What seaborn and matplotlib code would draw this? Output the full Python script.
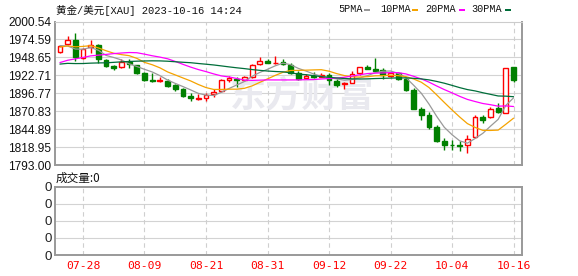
import numpy as np
import pandas as pd
import matplotlib
matplotlib.use("Agg")
import matplotlib.pyplot as plt
from matplotlib.patches import Rectangle
import matplotlib.transforms as mtransforms
import seaborn as sns

# ---------------- data ----------------
dates = ["07-25", "07-26", "07-27", "07-28", "07-31", "08-01", "08-02", "08-03", "08-04", "08-07",
         "08-08", "08-09", "08-10", "08-11", "08-14", "08-15", "08-16", "08-17", "08-18", "08-21",
         "08-22", "08-23", "08-24", "08-25", "08-28", "08-29", "08-30", "08-31", "09-01", "09-04",
         "09-05", "09-06", "09-07", "09-08", "09-11", "09-12", "09-13", "09-14", "09-15", "09-18",
         "09-19", "09-20", "09-21", "09-22", "09-25", "09-26", "09-27", "09-28", "09-29", "10-02",
         "10-03", "10-04", "10-05", "10-06", "10-09", "10-10", "10-11", "10-12", "10-13", "10-16"]

opens = [1956.8, 1967.4, 1973.7, 1947.2, 1963.0, 1966.5, 1944.7, 1935.5, 1935.0, 1942.3,
         1937.0, 1926.4, 1916.5, 1914.3, 1914.3, 1908.5, 1902.2, 1893.5, 1888.7, 1890.1,
         1895.5, 1900.3, 1915.8, 1917.7, 1915.8, 1919.6, 1938.4, 1943.3, 1940.0, 1942.3,
         1937.5, 1926.4, 1919.1, 1921.5, 1920.6, 1923.0, 1914.8, 1910.0, 1912.0, 1925.4,
         1935.0, 1931.2, 1930.3, 1921.5, 1926.4, 1916.7, 1901.3, 1874.7, 1865.1, 1848.1,
         1827.4, 1822.5, 1821.5, 1821.6, 1832.8, 1861.7, 1861.7, 1874.8, 1868.4, 1934.1]
highs = [1965.5, 1979.5, 1984.4, 1962.0, 1973.7, 1967.5, 1947.0, 1938.0, 1947.0, 1945.7,
         1938.2, 1927.9, 1926.4, 1920.6, 1916.8, 1909.5, 1903.7, 1896.5, 1895.5, 1897.4,
         1902.2, 1918.1, 1921.6, 1920.6, 1922.0, 1939.4, 1949.6, 1946.1, 1951.3, 1946.6,
         1940.0, 1929.4, 1924.5, 1927.9, 1926.4, 1925.4, 1916.7, 1913.3, 1929.3, 1935.0,
         1937.5, 1947.1, 1932.7, 1927.9, 1927.9, 1919.6, 1903.7, 1877.1, 1870.0, 1850.5,
         1832.7, 1828.8, 1827.8, 1836.0, 1865.0, 1865.0, 1876.2, 1882.9, 1932.7, 1935.0]
lows = [1955.4, 1966.0, 1943.8, 1945.7, 1954.4, 1940.9, 1935.0, 1931.0, 1932.7, 1932.7,
        1924.6, 1914.8, 1913.4, 1913.3, 1905.2, 1900.3, 1891.6, 1885.8, 1886.7, 1885.8,
        1891.6, 1898.8, 1912.9, 1905.2, 1914.8, 1918.2, 1937.0, 1940.0, 1939.4, 1937.5,
        1924.5, 1915.8, 1916.7, 1918.2, 1919.6, 1908.5, 1906.1, 1902.2, 1911.0, 1923.0,
        1931.2, 1928.4, 1916.7, 1919.6, 1915.8, 1900.3, 1873.3, 1857.8, 1845.7, 1826.5,
        1815.4, 1815.4, 1813.3, 1810.4, 1831.5, 1853.9, 1860.3, 1868.4, 1867.5, 1913.3]
closes = [1965.5, 1973.7, 1948.6, 1960.2, 1966.5, 1945.7, 1936.5, 1933.5, 1942.3, 1938.9,
          1926.4, 1915.8, 1914.4, 1915.8, 1907.0, 1902.2, 1892.6, 1890.6, 1890.6, 1894.5,
          1899.3, 1915.8, 1918.2, 1915.8, 1919.6, 1937.5, 1943.3, 1940.8, 1941.0, 1939.0,
          1926.4, 1916.7, 1921.5, 1919.6, 1922.5, 1915.8, 1908.5, 1912.0, 1924.5, 1934.1,
          1932.1, 1929.3, 1923.0, 1926.4, 1916.7, 1901.3, 1874.7, 1865.1, 1848.1, 1827.8,
          1821.6, 1821.5, 1820.6, 1831.3, 1861.7, 1858.8, 1873.3, 1869.9, 1932.7, 1915.8]
# closes of the 29 sessions before the first visible candle (needed by the moving averages)
prior_closes = [1942, 1958, 1958, 1950, 1936, 1932, 1913, 1921, 1923, 1913,
                1907, 1908, 1919, 1921, 1925, 1915, 1910, 1925, 1925, 1932,
                1957, 1961, 1955, 1955, 1979, 1977, 1970, 1962, 1954]

ma_periods = [5, 10, 20, 30]
ma_names = ["5PMA", "10PMA", "20PMA", "30PMA"]
ma_colors = ["#999999", "#f5a300", "#ff00ff", "#006e3a"]

price_ticks = [1793.00, 1818.95, 1844.89, 1870.83, 1896.77, 1922.71, 1948.65, 1974.59, 2000.54]
price_tick_labels = ["1793.00", "1818.95", "1844.89", "1870.83", "1896.77",
                     "1922.71", "1948.65", "1974.59", "2000.54"]
date_ticks = ["07-28", "08-09", "08-21", "08-31", "09-12", "09-22", "10-04", "10-16"]
vol_ticks = [0, 1, 2, 3, 4]
vol_tick_labels = ["0", "0", "0", "0", "0"]

title_text = "黄金/美元[XAU] 2023-10-16 14:24"
vol_title = "成交量:0"
watermark = "东方财富"

# ---------------- style ----------------
sns.set_theme(style="white")
plt.rcParams["font.family"] = ["Liberation Sans", "Noto Sans CJK SC", "DejaVu Sans"]
mono = ["Liberation Mono", "Noto Sans CJK SC", "DejaVu Sans"]

UP = "#ff0000"
DOWN = "#008000"
GRID = "#d3d3d3"
FRAME = "#999999"

W, H = 578, 276
fig = plt.figure(figsize=(W / 100, H / 100), dpi=100)
fig.patch.set_facecolor("white")

def fx(px):
    return px / W

def fy(py):
    return 1 - py / H

L, R = 55, 522
ax = fig.add_axes([fx(L), fy(165), fx(R - L), (165 - 21.5) / H])
axv = fig.add_axes([fx(L), fy(255), fx(R - L), (255 - 186.7) / H])

n = len(dates)
x = np.arange(n)
df = pd.DataFrame({"x": x, "date": dates, "open": opens, "high": highs,
                   "low": lows, "close": closes})

all_close = pd.Series(prior_closes + closes)
for p, name in zip(ma_periods, ma_names):
    df[name] = all_close.rolling(p).mean().to_numpy()[len(prior_closes):]

xlim = (-0.64, 60.1)
for a in (ax, axv):
    a.set_xlim(*xlim)
    a.set_facecolor("white")
    a.tick_params(axis="both", length=0)
    for s in a.spines.values():
        s.set_color(FRAME)
        s.set_linewidth(1.4)

tick_idx = [dates.index(d) for d in date_ticks]

# price panel
ax.set_ylim(price_ticks[0], price_ticks[-1])
ax.set_yticks(price_ticks)
ax.set_yticklabels(price_tick_labels, fontsize=8.6)
ax.tick_params(axis="y", pad=2.5, labelcolor="#111111")
ax.set_xticks(tick_idx)
ax.set_xticklabels([])
ax.spines["top"].set_color("#cccccc")
ax.spines["top"].set_linewidth(0.8)
for t in price_ticks[1:-1]:
    ax.axhline(t, color=GRID, lw=0.8, zorder=0)
for i in tick_idx:
    ax.axvline(i, color="#cfcfcf", lw=0.8, ls=(0, (4, 3)), zorder=0)

ax.text(0.53, (90 - 21.5) / (143.5), watermark, transform=ax.transAxes,
        ha="center", va="center", fontsize=26, fontweight="bold",
        color="#e9e9ef", family=["Noto Sans CJK SC"], zorder=0.5)

# candles
bw = 0.62
for r in df.itertuples():
    up = r.close >= r.open
    col = UP if up else DOWN
    ax.vlines(r.x, r.low, r.high, color=col, lw=1.0, zorder=2)
    bottom = min(r.open, r.close)
    h = max(abs(r.close - r.open), 0.9)
    ax.bar(r.x, h, bottom=bottom, width=bw,
           facecolor=("white" if up else DOWN), edgecolor=col,
           linewidth=1.0, zorder=3)

for name, col in zip(ma_names, ma_colors):
    sns.lineplot(data=df, x="x", y=name, ax=ax, color=col, lw=0.9,
                 zorder=4, legend=False)
ax.set_xlabel("")
ax.set_ylabel("")
ax.set_xlim(*xlim)

# volume panel
axv.set_ylim(0, 4)
axv.set_yticks(vol_ticks)
axv.set_yticklabels(vol_tick_labels, fontsize=9.5)
axv.tick_params(axis="y", pad=2.5, labelcolor="#222222")
for t in vol_ticks[1:-1]:
    axv.axhline(t, color=GRID, lw=0.8, zorder=0)
for i in tick_idx:
    axv.axvline(i, color="#cfcfcf", lw=0.8, ls=(0, (4, 3)), zorder=0)
axv.set_xticks(tick_idx)
axv.set_xticklabels([])

# red date labels under the volume panel (x in data coords, y in axes coords)
trans = mtransforms.blended_transform_factory(axv.transData, axv.transAxes)
for i, lab in zip(tick_idx, date_ticks):
    axv.text(i, -11.0 / 68.3, lab, transform=trans, ha="center", va="center",
             fontsize=8.2, family=["DejaVu Sans Mono"], color="#ff0000",
             clip_on=False)

# texts
fig.text(fx(56), fy(10), title_text, fontsize=7.6, family=mono,
         ha="left", va="center", color="#111111")
fig.text(fx(56), fy(178), vol_title, fontsize=8.4, family=["Noto Sans CJK SC", "DejaVu Sans"],
         ha="left", va="center", color="#111111")

# legend
leg_text_x = [338.7, 380.3, 425.7, 471.3]
leg_sq_x = [364.5, 412.3, 459.0, 505.3]
for name, col, tx, sx in zip(ma_names, ma_colors, leg_text_x, leg_sq_x):
    fig.text(fx(tx), fy(9.5), name, fontsize=7.3, family=mono, ha="left",
             va="center", color="#111111")
    fig.add_artist(Rectangle((fx(sx), fy(10.8)), fx(5.5), 2.2 / H,
                             transform=fig.transFigure, facecolor=col,
                             edgecolor="none"))

fig.savefig("out.png", dpi=100, facecolor="white")
